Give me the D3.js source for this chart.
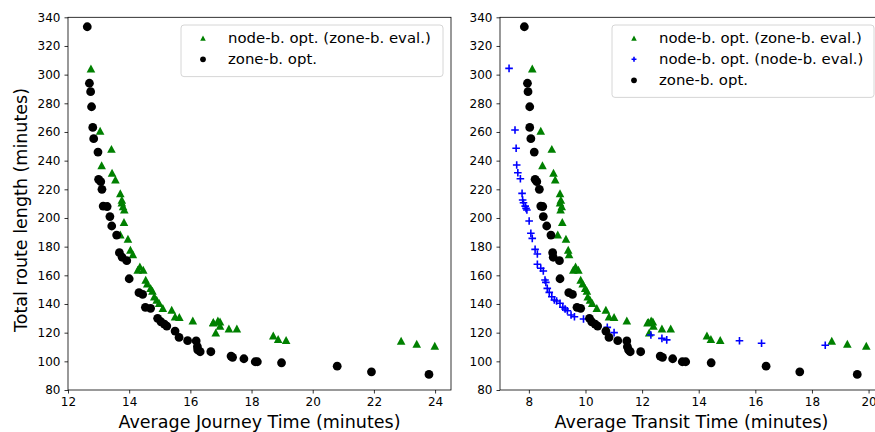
<!DOCTYPE html>
<html>
<head>
<meta charset="utf-8">
<script src="https://cdn.jsdelivr.net/npm/d3@7"></script>
<style>
  body { margin: 0; background: #fff; }
  svg { display: block; font-family: "DejaVu Sans", sans-serif; }
</style>
</head>
<body>
<svg id="chart" width="875" height="432"></svg>
<script>
// zone-b. opt. : route length, avg journey time, avg transit time
const zoneLen = [333.4, 294, 288.1, 277.6, 263.2, 255.3, 246, 227, 225.3, 220, 208.3, 208, 201, 194.4, 188.1,
  175.8, 172.6, 170.2, 157.6, 147.9, 146.7, 137.7, 137, 130, 127.6, 126, 124.6, 121.1, 116.7, 114.4, 114.2,
  110.2, 108, 106.7, 106.7, 103.7, 102.8, 101.8, 99.7, 99.7, 99, 96.6, 92.7, 90.9];
const zoneJT = [12.63, 12.70, 12.74, 12.77, 12.81, 12.84, 12.98, 13.00, 13.07, 13.11, 13.15, 13.28, 13.37, 13.43, 13.59,
  13.68, 13.77, 13.92, 14.00, 14.32, 14.44, 14.53, 14.70, 14.93, 15.04, 15.15, 15.23, 15.50, 15.63, 15.91, 16.19,
  16.23, 16.24, 16.32, 16.67, 17.33, 17.38, 17.75, 18.12, 18.19, 18.98, 20.80, 21.92, 23.80];
const zoneTT = [7.84, 7.95, 7.97, 8.03, 8.03, 8.07, 8.19, 8.22, 8.28, 8.37, 8.42, 8.49, 8.51, 8.63, 8.78,
  8.84, 8.86, 9.08, 9.10, 9.41, 9.54, 9.70, 9.83, 10.14, 10.22, 10.34, 10.43, 10.72, 10.83, 11.14, 11.46,
  11.48, 11.52, 11.58, 11.95, 12.64, 12.72, 13.08, 13.42, 13.54, 14.44, 16.38, 17.57, 19.60];

// node-b. opt. evaluated zone-based
const nodeZoneLen = [304, 260.7, 248, 236.5, 231.3, 226.6, 217, 212.5, 210.6, 207.9, 205.6, 197, 188.3, 185.3, 177.6,
  174.5, 166, 163.7, 163.7, 156.7, 154, 151, 149, 145, 142.7, 140.5, 137, 135.8, 131.1, 130.7, 128.3,
  127.2, 127.6, 126.9, 128.3, 124.6, 119.9, 122.7, 122.7, 117.8, 115.3, 114.6, 114.1, 112, 110.7];
const nodeZoneJT = [12.75, 13.05, 13.42, 13.10, 13.44, 13.55, 13.71, 13.76, 13.76, 13.80, 13.84, 13.83, 13.71, 13.96, 14.04,
  14.12, 14.35, 14.28, 14.46, 14.54, 14.59, 14.70, 14.76, 14.82, 14.90, 14.98, 15.10, 15.39, 15.50, 15.64, 16.08,
  16.75, 16.97, 16.75, 16.90, 16.97, 16.83, 17.26, 17.52, 18.71, 18.87, 19.13, 22.89, 23.40, 23.99];
const nodeZoneTT = [8.12, 8.42, 8.81, 8.48, 8.87, 8.93, 9.10, 9.13, 9.10, 9.16, 9.12, 9.18, 9.02, 9.31, 9.39,
  9.42, 9.65, 9.57, 9.75, 9.83, 9.90, 9.99, 10.05, 10.08, 10.16, 10.24, 10.40, 10.72, 10.83, 11.01, 11.46,
  12.22, 12.38, 12.19, 12.32, 12.40, 12.25, 12.70, 13.01, 14.29, 14.43, 14.76, 18.70, 19.25, 19.92];

// node-b. opt. evaluated node-based
const nodeNodeLen = [304.4, 261.4, 248.6, 237, 231.6, 227.4, 217.2, 212.5, 210.6, 208.3, 206.7, 205.6, 197.9, 189.3, 185.8,
  178.1, 174.9, 167.7, 164.9, 163, 156.7, 155.1, 150.9, 148.1, 145.1, 142.8, 142.1, 140.5, 137.7, 136.5, 135.3,
  132.3, 131.1, 129.5, 123.7, 120, 118.4, 116, 115, 114.4, 112.6, 111.2];
const nodeNodeTT = [7.30, 7.51, 7.55, 7.57, 7.61, 7.70, 7.76, 7.78, 7.81, 7.87, 7.90, 7.93, 8.01, 8.07, 8.12,
  8.22, 8.30, 8.30, 8.42, 8.51, 8.57, 8.60, 8.65, 8.72, 8.81, 8.90, 8.98, 9.10, 9.20, 9.28, 9.36,
  9.49, 9.61, 9.93, 10.77, 11.01, 12.31, 12.70, 12.87, 15.44, 16.22, 18.47];

const yTicks = [80, 100, 120, 140, 160, 180, 200, 220, 240, 260, 280, 300, 320, 340];
const leftXTicks = [12, 14, 16, 18, 20, 22, 24];
const rightXTicks = [8, 10, 12, 14, 16, 18, 20];

const green = "#008000", blue = "#0000ff", black = "#000000";

const svg = d3.select("#chart");
const y = d3.scaleLinear().domain([80, 340]).range([390, 17.3]);

function tri(s) {
  return `M0,${-s}L${s},${s * 0.85}L${-s},${s * 0.85}Z`;
}

function drawMarkers(g, xs, ys, x, kind, color, size) {
  const pts = xs.map((v, i) => [x(v), y(ys[i])]);
  if (kind === "tri") {
    g.selectAll(null).data(pts).join("path")
      .attr("transform", d => `translate(${d[0]},${d[1]})`)
      .attr("d", tri(size)).attr("fill", color);
  } else if (kind === "plus") {
    g.selectAll(null).data(pts).join("path")
      .attr("transform", d => `translate(${d[0]},${d[1]})`)
      .attr("d", `M${-size},0H${size}M0,${-size}V${size}`)
      .attr("stroke", color).attr("stroke-width", 1.6).attr("fill", "none");
  } else {
    g.selectAll(null).data(pts).join("circle")
      .attr("cx", d => d[0]).attr("cy", d => d[1]).attr("r", size).attr("fill", color);
  }
}

function panel(x0, x1, domain, xTicks, xLabel, series, legend) {
  const x = d3.scaleLinear().domain(domain).range([x0, x1]);
  const g = svg.append("g");
  const clipId = "clip" + x0;
  svg.append("clipPath").attr("id", clipId)
    .append("rect").attr("x", x0).attr("y", 17.3).attr("width", x1 - x0).attr("height", 390 - 17.3);

  const marks = g.append("g").attr("clip-path", `url(#${clipId})`);
  series.forEach(s => drawMarkers(marks, s.xs, s.ys, x, s.kind, s.color, s.size));

  // axes
  const ax = g.append("g").attr("transform", "translate(0,390)")
    .call(d3.axisBottom(x).tickValues(xTicks).tickSize(3.5).tickPadding(4).tickFormat(d3.format("d")));
  const ay = g.append("g").attr("transform", `translate(${x0},0)`)
    .call(d3.axisLeft(y).tickValues(yTicks).tickSize(3.5).tickPadding(4).tickFormat(d3.format("d")));
  [ax, ay].forEach(a => {
    a.select(".domain").remove();
    a.selectAll("line").attr("stroke", "#000").attr("stroke-width", 0.8);
    a.selectAll("text").attr("font-size", 12).attr("fill", "#000").attr("font-family", "DejaVu Sans");
  });
  g.append("rect").attr("x", x0).attr("y", 17.3).attr("width", x1 - x0).attr("height", 390 - 17.3)
    .attr("fill", "none").attr("stroke", "#000").attr("stroke-width", 0.8);

  g.append("text").attr("x", (x0 + Math.min(x1, 875)) / 2 + (x1 > 875 ? 4 : 0)).attr("y", 428)
    .attr("text-anchor", "middle").attr("font-size", 17.5).text(xLabel);

  // legend
  const lg = g.append("g");
  const lx = legend.x, ly = legend.y, lw = legend.w;
  const lh = 10 + series.length * 20.8;
  lg.append("rect").attr("x", lx).attr("y", ly).attr("width", lw).attr("height", lh)
    .attr("rx", 3).attr("fill", "#fff").attr("fill-opacity", 0.8)
    .attr("stroke", "#cccccc").attr("stroke-width", 0.8);
  series.forEach((s, i) => {
    const cy = ly + 13.3 + i * 21;
    const mg = lg.append("g");
    drawMarkers(mg, [0], [0], () => lx + 22, s.kind, s.color, s.size * 0.65);
    mg.selectAll("*").attr("transform", `translate(${lx + 22},${cy})`)
      .filter("circle").attr("cx", 0).attr("cy", 0);
    lg.append("text").attr("x", lx + 47).attr("y", cy + 5).attr("font-size", 14.9).text(s.name);
  });
}

panel(68, 451, [12, 24.52], leftXTicks, "Average Journey Time (minutes)", [
  { name: "node-b. opt. (zone-b. eval.)", xs: nodeZoneJT, ys: nodeZoneLen, kind: "tri", color: green, size: 4.3 },
  { name: "zone-b. opt.", xs: zoneJT, ys: zoneLen, kind: "circle", color: black, size: 4.4 }
], { x: 181, y: 25, w: 262 });

panel(500, 883, [6.98, 20.51], rightXTicks, "Average Transit Time (minutes)", [
  { name: "node-b. opt. (zone-b. eval.)", xs: nodeZoneTT, ys: nodeZoneLen, kind: "tri", color: green, size: 4.3 },
  { name: "node-b. opt. (node-b. eval.)", xs: nodeNodeTT, ys: nodeNodeLen, kind: "plus", color: blue, size: 3.8 },
  { name: "zone-b. opt.", xs: zoneTT, ys: zoneLen, kind: "circle", color: black, size: 4.4 }
], { x: 612, y: 25, w: 262 });

svg.append("text")
  .attr("transform", "translate(27,210) rotate(-90)")
  .attr("text-anchor", "middle").attr("font-size", 17.5)
  .text("Total route length (minutes)");
</script>
</body>
</html>
